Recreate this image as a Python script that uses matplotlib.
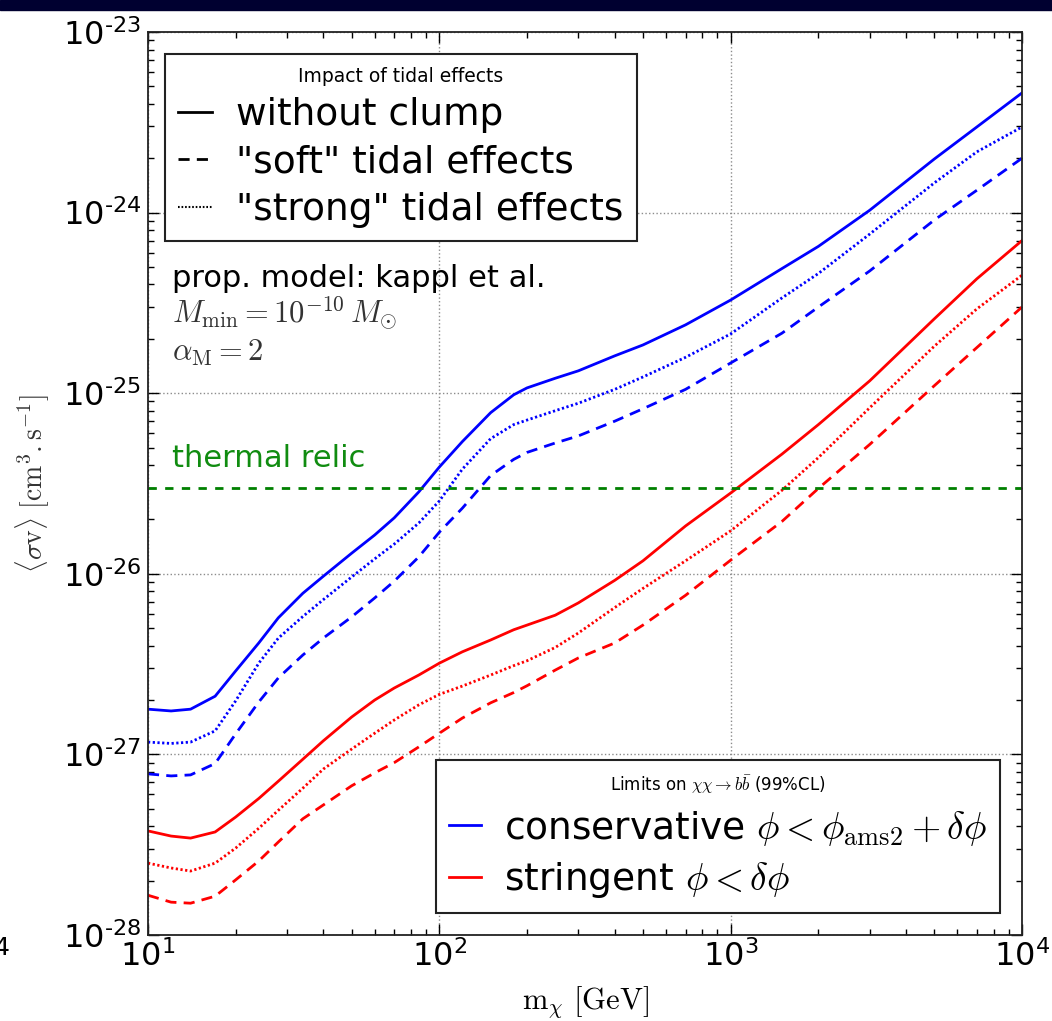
import matplotlib
matplotlib.use('Agg')
import matplotlib.pyplot as plt
from matplotlib.lines import Line2D
from matplotlib.patches import Rectangle
from matplotlib.ticker import LogLocator, FuncFormatter, NullFormatter
import numpy as np

# ---------------- data ----------------
mass = [10, 12, 14, 17, 20, 24, 28, 34, 40, 50, 60, 70, 85, 100, 120, 150,
        180, 200, 250, 300, 400, 500, 700, 1000, 1500, 2000, 3000, 5000, 7000, 10000]

cons_noclump = [1.78e-27, 1.74e-27, 1.78e-27, 2.10e-27, 2.90e-27, 4.14e-27, 5.7e-27, 7.8e-27,
                9.7e-27, 1.30e-26, 1.64e-26, 2.04e-26, 2.84e-26, 3.9e-26, 5.4e-26, 7.8e-26,
                9.8e-26, 1.07e-25, 1.21e-25, 1.33e-25, 1.61e-25, 1.85e-25, 2.39e-25, 3.28e-25,
                4.9e-25, 6.5e-25, 1.03e-24, 1.98e-24, 2.98e-24, 4.6e-24]
cons_strong = [1.17e-27, 1.15e-27, 1.17e-27, 1.35e-27, 1.98e-27, 3.2e-27, 4.4e-27, 5.8e-27,
               7.2e-27, 9.6e-27, 1.21e-26, 1.46e-26, 1.91e-26, 2.53e-26, 3.8e-26, 5.6e-26,
               6.7e-26, 7.1e-26, 8.0e-26, 8.8e-26, 1.05e-25, 1.23e-25, 1.58e-25, 2.13e-25,
               3.37e-25, 4.6e-25, 7.6e-25, 1.46e-24, 2.17e-24, 2.98e-24]
cons_soft = [7.8e-28, 7.6e-28, 7.7e-28, 8.9e-28, 1.30e-27, 1.95e-27, 2.65e-27, 3.55e-27,
             4.41e-27, 5.77e-27, 7.35e-27, 9.1e-27, 1.24e-26, 1.70e-26, 2.31e-26, 3.5e-26,
             4.3e-26, 4.7e-26, 5.3e-26, 5.8e-26, 7.0e-26, 8.2e-26, 1.05e-25, 1.47e-25,
             2.15e-25, 3.0e-25, 4.75e-25, 9.1e-25, 1.33e-24, 2.0e-24]

str_noclump = [3.77e-28, 3.53e-28, 3.44e-28, 3.72e-28, 4.5e-28, 5.7e-28, 7.1e-28, 9.4e-28,
               1.19e-27, 1.61e-27, 2.0e-27, 2.33e-27, 2.75e-27, 3.2e-27, 3.7e-27, 4.3e-27,
               4.9e-27, 5.2e-27, 5.9e-27, 6.9e-27, 9.2e-27, 1.18e-26, 1.84e-26, 2.8e-26,
               4.6e-26, 6.7e-26, 1.17e-25, 2.58e-25, 4.3e-25, 7.0e-25]
str_strong = [2.5e-28, 2.35e-28, 2.26e-28, 2.5e-28, 3.03e-28, 3.9e-28, 4.9e-28, 6.5e-28,
              8.3e-28, 1.07e-27, 1.31e-27, 1.55e-27, 1.88e-27, 2.15e-27, 2.39e-27, 2.75e-27,
              3.1e-27, 3.3e-27, 3.91e-27, 4.7e-27, 6.5e-27, 8.3e-27, 1.18e-26, 1.73e-26,
              2.9e-26, 4.4e-26, 8.3e-26, 1.82e-25, 2.93e-25, 4.5e-25]
str_soft = [1.66e-28, 1.52e-28, 1.50e-28, 1.64e-28, 2.02e-28, 2.57e-28, 3.27e-28, 4.4e-28,
            5.25e-28, 6.7e-28, 7.9e-28, 9.0e-28, 1.10e-27, 1.31e-27, 1.59e-27, 1.93e-27,
            2.2e-27, 2.4e-27, 2.93e-27, 3.42e-27, 4.14e-27, 5.2e-27, 7.6e-27, 1.19e-26,
            1.95e-26, 2.97e-26, 5.2e-26, 1.10e-25, 1.79e-25, 3.0e-25]

thermal_relic = 3e-26
xlim = (10, 1e4)
ylim = (1e-28, 1e-23)

tidal_labels = ['without clump', '"soft" tidal effects', '"strong" tidal effects']
limit_labels = [r'conservative $\phi < \phi_{\rm ams2} + \delta\phi$',
                r'stringent $\phi < \delta\phi$']

# ---------------- style ----------------
plt.rcParams['font.family'] = ['DejaVu Sans']
plt.rcParams['mathtext.fontset'] = 'cm'
plt.rcParams['legend.fancybox'] = False

W, H = 1052, 1021
fig = plt.figure(figsize=(W / 100, H / 100), dpi=100)
fig.patch.set_facecolor('white')
ax = fig.add_axes([148 / W, 1 - 935 / H, 874 / W, 903 / H])

DOT = (0, (0.8, 0.9))
DASH = (0, (4.0, 2.6))

ax.plot(mass, cons_noclump, color='#0000ff', lw=2.0, ls='-')
ax.plot(mass, cons_strong, color='#0000ff', lw=2.0, ls=DOT)
ax.plot(mass, cons_soft, color='#0000ff', lw=2.0, ls=DASH)
ax.plot(mass, str_noclump, color='#ff0000', lw=2.0, ls='-')
ax.plot(mass, str_strong, color='#ff0000', lw=2.0, ls=DOT)
ax.plot(mass, str_soft, color='#ff0000', lw=2.0, ls=DASH)
ax.axhline(thermal_relic, color='#008000', lw=2.0, ls=(0, (3, 3)))

ax.set_xscale('log')
ax.set_yscale('log')
ax.set_xlim(*xlim)
ax.set_ylim(*ylim)

HY = '\u2010'

def fmt(v, pos):
    e = int(round(np.log10(v)))
    s = (HY + str(-e)) if e < 0 else str(e)
    return r'$\mathregular{10^{' + s + r'}}$'

ax.xaxis.set_major_formatter(FuncFormatter(fmt))
ax.yaxis.set_major_formatter(FuncFormatter(fmt))
ax.xaxis.set_minor_formatter(NullFormatter())
ax.yaxis.set_minor_formatter(NullFormatter())
ax.yaxis.set_major_locator(LogLocator(base=10, numticks=20))
ax.yaxis.set_minor_locator(LogLocator(base=10, subs=np.arange(2, 10), numticks=20))

ax.tick_params(which='both', direction='in', top=True, right=True)
ax.tick_params(which='major', length=8, width=1, labelsize=23)
ax.tick_params(axis='y', which='major', pad=5)
ax.tick_params(axis='x', which='major', pad=4)
ax.tick_params(which='minor', length=4, width=1)
for s in ax.spines.values():
    s.set_linewidth(1.3)
    s.set_color('#222222')

ax.grid(True, which='major', color='0.55', ls=':', lw=1.0)

ax.set_xlabel(r'$\mathrm{m_{\chi}\ [GeV]}$', fontsize=22)
ax.set_ylabel(r'$\langle \sigma \mathrm{v} \rangle\ [\mathrm{cm^3.s^{-1}}]$', fontsize=20,
              color='#333333')
ax.xaxis.set_label_coords(0.5, -0.055)
ax.yaxis.set_label_coords(-0.11, 0.5)

# annotations
tx = (172 - 148) / 874
ax.text(tx, (935 - 287) / 903, 'prop. model: kappl et al.', transform=ax.transAxes,
        fontsize=22, va='baseline', ha='left')
ax.text(tx, (935 - 323) / 903, r'$M_{\rm min} = 10^{-10}\,M_{\odot}$', transform=ax.transAxes,
        fontsize=22, va='baseline', ha='left', color='#333333')
ax.text(tx, (935 - 361) / 903, r'$\alpha_{\rm M} = 2$', transform=ax.transAxes,
        fontsize=22, va='baseline', ha='left', color='#333333')
ax.text(tx, (935 - 467) / 903, 'thermal relic', transform=ax.transAxes,
        fontsize=22, va='baseline', ha='left', color='#108c10')

# legends
h1 = [Line2D([], [], color='k', lw=2, ls='-'),
      Line2D([], [], color='k', lw=2, ls=DASH),
      Line2D([], [], color='k', lw=1.5, ls=DOT)]
leg1 = ax.legend(h1, tidal_labels, loc='upper left',
                 bbox_to_anchor=(17 / 874, 1 - 22 / 903), borderaxespad=0,
                 fontsize=27, title='Impact of tidal effects', title_fontsize=13.5,
                 handlelength=0.9, handletextpad=0.65, labelspacing=0.3,
                 borderpad=0.35, framealpha=1)
leg1.get_frame().set_edgecolor('#222222')
leg1.get_frame().set_linewidth(1.5)
ax.add_artist(leg1)

h2 = [Line2D([], [], color='#0000ff', lw=2),
      Line2D([], [], color='#ff0000', lw=2)]
leg2 = ax.legend(h2, limit_labels, loc='lower right',
                 bbox_to_anchor=(1 - 22 / 874, 22 / 903), borderaxespad=0,
                 fontsize=27, title=r'Limits on $\chi\chi \to b\bar{b}$ (99%CL)', title_fontsize=12,
                 handlelength=0.85, handletextpad=0.6, labelspacing=0.33,
                 borderpad=0.35, framealpha=1)
leg2.get_frame().set_edgecolor('#222222')
leg2.get_frame().set_linewidth(1.5)

# decorations of the original picture
fig.add_artist(Rectangle((0, 1 - 10 / H), 1, 10 / H, transform=fig.transFigure,
                         color='#000030', zorder=10))
fig.text(-6 / W, 1 - 955 / H, '4', fontsize=18, ha='left', va='baseline')

fig.savefig('out.png', dpi=100)
